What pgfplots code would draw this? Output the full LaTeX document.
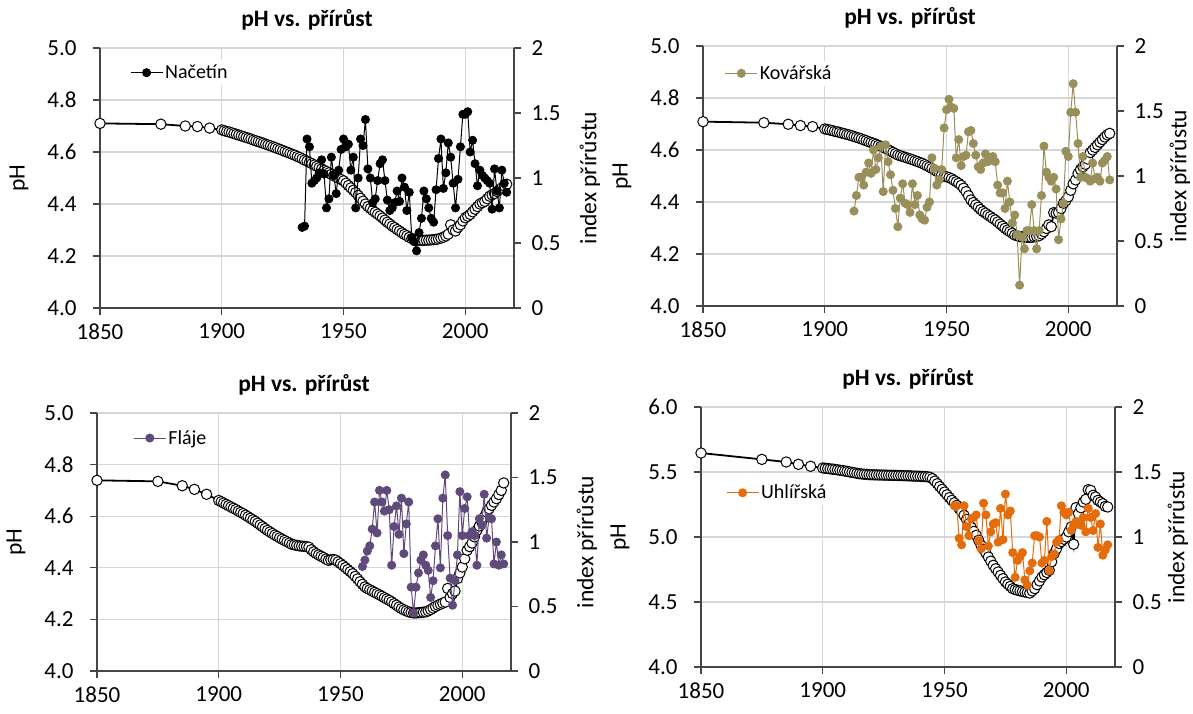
\documentclass[border=0pt]{standalone}
\usepackage{fontspec}
\setmainfont{Carlito}
\usepackage{pgfplots}
\pgfplotsset{compat=1.18}
\definecolor{kov}{RGB}{153,143,90}
\definecolor{fla}{RGB}{96,74,123}
\definecolor{uhl}{RGB}{228,108,10}
\definecolor{gridc}{RGB}{214,214,214}
\definecolor{axc}{RGB}{70,70,70}

\pgfplotsset{
  base/.style={
    scale only axis, width=414pt, height=260pt,
    anchor=south west,
    xmin=1850, xmax=2020,
    tick align=outside, major tick length=7pt,
    font=\fontsize{23}{25}\selectfont,
    every tick label/.append style={font=\fontsize{23}{25}\selectfont, text=black},
    label style={font=\fontsize{23.5}{26}\selectfont},
    axis line style={draw=axc, line width=1.2pt},
    every tick/.append style={draw=axc, line width=1.2pt},
    clip=false,
    /pgf/number format/assume math mode=true,
  },
  leftax/.style={base,
    axis x line*=bottom, axis y line*=left,
    xtick={1850,1900,1950,2000},
    xticklabels={1850,1900,1950,2000},
    xticklabel style={yshift=-5pt},
    yticklabel style={xshift=-13pt},
    ylabel={pH},
    ylabel style={at={([xshift=-81pt]axis description cs:0,0.5)}, anchor=center},
    title style={font=\bfseries\fontsize{23.5}{26}\selectfont, at={(axis description cs:0.5,1)}, anchor=center, yshift=22pt},
    title={pH vs. přírůst},
    grid=major, grid style={draw=gridc, line width=1.3pt},
  },
  rightax/.style={base,
    axis x line=none, axis y line*=right,
    ymin=0, ymax=2, ytick={0,0.5,1,1.5,2},
    yticklabels={0,0.5,1,1.5,2},
    yticklabel style={xshift=7pt},
    ylabel={index přírůstu},
    ylabel style={at={([xshift=#1]axis description cs:1,0.5)}, anchor=center},
    legend style={draw=none, fill=white, font=\fontsize{20}{22}\selectfont, anchor=west, inner sep=3pt},
    legend image code/.code={\draw[mark repeat=2,mark phase=2,##1] plot coordinates {(0pt,0pt) (16pt,0pt) (32pt,0pt)};},
  },
  phline/.style={black, line width=1.8pt, mark=*, mark size=5.2pt, mark options={fill=white, draw=black, line width=1pt}},
  grline/.style={color=#1, line width=1pt, mark=*, mark size=4pt, mark options={fill=#1, draw=#1}},
}

\begin{document}
\begin{tikzpicture}
\useasboundingbox (0pt,0pt) rectangle (1193pt,713pt);

% ---------------- Panel 1: Načetín ----------------
\begin{axis}[leftax, at={(100pt,405pt)}, ymin=4, ymax=5, ytick={4,4.2,4.4,4.6,4.8,5},
  yticklabels={4.0,4.2,4.4,4.6,4.8,5.0}]
\addplot[phline] coordinates {
(1850,4.710)(1875,4.707)(1885,4.700)(1890,4.698)(1895,4.692)
(1900,4.685)(1901,4.682)(1902,4.679)(1903,4.677)(1904,4.674)(1905,4.671)(1906,4.668)(1907,4.665)(1908,4.662)(1909,4.659)
(1910,4.656)(1911,4.653)(1912,4.650)(1913,4.646)(1914,4.643)(1915,4.640)(1916,4.637)(1917,4.634)(1918,4.630)(1919,4.627)
(1920,4.624)(1921,4.620)(1922,4.617)(1923,4.613)(1924,4.610)(1925,4.606)(1926,4.602)(1927,4.599)(1928,4.595)(1929,4.591)
(1930,4.588)(1931,4.583)(1932,4.579)(1933,4.574)(1934,4.569)(1935,4.565)(1936,4.560)(1937,4.555)(1938,4.550)(1939,4.545)
(1940,4.540)(1941,4.535)(1942,4.530)(1943,4.525)(1944,4.520)(1945,4.514)(1946,4.509)(1947,4.504)(1948,4.499)(1949,4.494)
(1950,4.489)(1951,4.480)(1952,4.471)(1953,4.462)(1954,4.453)(1955,4.444)(1956,4.433)(1957,4.422)(1958,4.411)(1959,4.400)
(1960,4.390)(1961,4.383)(1962,4.375)(1963,4.368)(1964,4.361)(1965,4.354)(1966,4.346)(1967,4.338)(1968,4.330)(1969,4.323)
(1970,4.315)(1971,4.309)(1972,4.302)(1973,4.296)(1974,4.289)(1975,4.283)(1976,4.278)(1977,4.272)(1978,4.267)(1979,4.264)
(1980,4.261)(1981,4.261)(1982,4.260)(1983,4.260)(1984,4.261)(1985,4.261)(1986,4.262)(1987,4.263)(1988,4.264)(1989,4.266)
(1990,4.269)(1991,4.272)(1992,4.277)(1993,4.284)(1994,4.320)(1995,4.300)(1996,4.296)(1997,4.310)(1998,4.320)(1999,4.335)
(2000,4.347)(2001,4.353)(2002,4.360)(2003,4.370)(2004,4.380)(2005,4.390)(2006,4.400)(2007,4.405)(2008,4.410)(2009,4.420)
(2010,4.430)(2011,4.435)(2012,4.440)(2013,4.448)(2014,4.455)(2015,4.462)(2016,4.470)(2017,4.476)
};
\end{axis}
\begin{axis}[rightax=76pt, at={(100pt,405pt)}, legend style={at={(axis description cs:0.065,0.905)}}]
\addplot[grline=black] coordinates {
(1933,0.62)(1934,0.63)(1935,1.30)(1936,1.24)(1937,0.96)(1938,0.98)(1939,1.00)
(1940,1.04)(1941,1.14)(1942,1.03)(1943,0.77)(1944,0.84)(1945,1.16)(1946,1.02)(1947,0.88)(1948,1.06)(1949,1.22)
(1950,1.30)(1951,1.24)(1952,1.26)(1953,1.06)(1954,1.16)(1955,0.77)(1956,1.00)(1957,1.30)(1958,1.25)(1959,1.45)
(1960,1.07)(1961,1.00)(1962,0.81)(1963,0.84)(1964,0.98)(1965,1.11)(1966,1.14)(1967,0.98)(1968,0.83)(1969,0.75)
(1970,0.77)(1971,0.81)(1972,0.90)(1973,0.82)(1974,1.00)(1975,0.93)(1976,0.75)(1977,0.89)(1978,0.54)(1979,0.51)
(1980,0.44)(1981,0.58)(1982,0.69)(1983,0.90)(1984,0.84)(1985,0.77)(1986,0.69)(1987,0.66)(1988,0.91)(1989,1.15)
(1990,1.30)(1991,0.92)(1992,1.04)(1993,1.27)(1994,1.16)(1995,0.96)(1996,0.77)(1997,0.99)(1998,1.24)(1999,1.49)
(2000,1.49)(2001,1.51)(2002,1.20)(2003,1.29)(2004,1.11)(2005,0.94)(2006,1.06)(2007,1.02)(2008,1.00)(2009,0.98)
(2010,0.96)(2011,0.76)(2012,1.07)(2013,0.90)(2014,0.77)(2015,1.06)(2016,0.96)(2017,0.89)
};
\addlegendentry{Načetín}
\end{axis}

% ---------------- Panel 2: Kovářská ----------------
\begin{axis}[leftax, at={(703pt,407pt)}, ymin=4, ymax=5, ytick={4,4.2,4.4,4.6,4.8,5},
  yticklabels={4.0,4.2,4.4,4.6,4.8,5.0}]
\addplot[phline] coordinates {
(1850,4.709)(1875,4.705)(1885,4.699)(1890,4.694)(1895,4.690)
(1900,4.681)(1901,4.679)(1902,4.677)(1903,4.675)(1904,4.672)(1905,4.670)(1906,4.668)(1907,4.665)(1908,4.663)(1909,4.660)
(1910,4.658)(1911,4.655)(1912,4.652)(1913,4.649)(1914,4.646)(1915,4.643)(1916,4.639)(1917,4.636)(1918,4.632)(1919,4.629)
(1920,4.626)(1921,4.622)(1922,4.618)(1923,4.614)(1924,4.610)(1925,4.606)(1926,4.601)(1927,4.596)(1928,4.591)(1929,4.586)
(1930,4.581)(1931,4.578)(1932,4.575)(1933,4.572)(1934,4.569)(1935,4.566)(1936,4.563)(1937,4.559)(1938,4.556)(1939,4.552)
(1940,4.549)(1941,4.544)(1942,4.539)(1943,4.534)(1944,4.529)(1945,4.523)(1946,4.518)(1947,4.512)(1948,4.505)(1949,4.499)
(1950,4.497)(1951,4.494)(1952,4.490)(1953,4.484)(1954,4.478)(1955,4.472)(1956,4.464)(1957,4.453)(1958,4.440)(1959,4.424)
(1960,4.408)(1961,4.398)(1962,4.389)(1963,4.380)(1964,4.371)(1965,4.363)(1966,4.357)(1967,4.350)(1968,4.344)(1969,4.337)
(1970,4.331)(1971,4.323)(1972,4.315)(1973,4.307)(1974,4.299)(1975,4.292)(1976,4.286)(1977,4.280)(1978,4.273)(1979,4.270)
(1980,4.267)(1981,4.266)(1982,4.265)(1983,4.264)(1984,4.264)(1985,4.264)(1986,4.266)(1987,4.268)(1988,4.270)(1989,4.277)
(1990,4.286)(1991,4.298)(1992,4.312)(1993,4.305)(1994,4.359)(1995,4.357)(1996,4.360)(1997,4.375)(1998,4.395)(1999,4.405)
(2000,4.420)(2001,4.445)(2002,4.470)(2003,4.485)(2004,4.510)(2005,4.525)(2006,4.535)(2007,4.545)(2008,4.565)(2009,4.590)
(2010,4.600)(2011,4.610)(2012,4.620)(2013,4.630)(2014,4.640)(2015,4.650)(2016,4.658)(2017,4.664)
};
\end{axis}
\begin{axis}[rightax=63pt, at={(703pt,407pt)}, legend style={at={(axis description cs:0.045,0.895)}}]
\addplot[grline=kov] coordinates {
(1912,0.73)(1913,0.85)(1914,0.99)(1915,0.99)(1916,0.93)(1917,1.03)(1918,1.10)(1919,1.02)
(1920,1.20)(1921,1.05)(1922,1.14)(1923,1.23)(1924,0.88)(1925,1.24)(1926,1.11)(1927,1.01)(1928,0.89)(1929,0.75)
(1930,0.61)(1931,0.83)(1932,0.94)(1933,0.79)(1934,0.78)(1935,0.72)(1936,0.94)(1937,0.78)(1938,0.85)(1939,0.70)
(1940,0.67)(1941,0.66)(1942,0.76)(1943,0.80)(1944,1.14)(1945,1.06)(1946,0.93)(1947,0.97)(1948,1.05)(1949,1.37)
(1950,1.51)(1951,1.59)(1952,1.53)(1953,1.52)(1954,1.14)(1955,1.28)(1956,1.08)(1957,1.15)(1958,1.16)(1959,1.34)
(1960,1.35)(1961,1.25)(1962,1.16)(1963,1.07)(1964,1.05)(1965,1.10)(1966,1.17)(1967,1.11)(1968,1.12)(1969,1.15)
(1970,1.11)(1971,0.93)(1972,0.87)(1973,0.87)(1974,0.75)(1975,0.96)(1976,0.80)(1977,0.64)(1978,0.70)(1979,0.55)
(1980,0.16)(1981,0.53)(1982,0.44)(1983,0.58)(1984,0.58)(1985,0.78)(1986,0.58)(1987,0.44)(1988,0.58)(1989,0.85)
(1990,1.23)(1991,1.03)(1992,0.99)(1993,0.96)(1994,0.99)(1995,0.90)(1996,0.51)(1997,0.67)(1998,0.79)(1999,1.19)
(2000,1.15)(2001,1.49)(2002,1.71)(2003,1.49)(2004,1.25)(2005,0.99)(2006,1.15)(2007,0.99)(2008,0.98)(2009,0.96)
(2010,1.10)(2011,0.98)(2012,0.99)(2013,0.96)(2014,1.10)(2015,1.12)(2016,1.15)(2017,0.97)
};
\addlegendentry{Kovářská}
\end{axis}

% ---------------- Panel 3: Fláje ----------------
\begin{axis}[leftax, at={(97pt,42pt)}, height=258pt, ymin=4, ymax=5, ytick={4,4.2,4.4,4.6,4.8,5},
  yticklabels={4.0,4.2,4.4,4.6,4.8,5.0}]
\addplot[phline] coordinates {
(1850,4.739)(1875,4.735)(1885,4.718)(1890,4.704)(1895,4.685)
(1900,4.661)(1901,4.656)(1902,4.651)(1903,4.646)(1904,4.641)(1905,4.636)(1906,4.631)(1907,4.626)(1908,4.620)(1909,4.615)
(1910,4.610)(1911,4.604)(1912,4.598)(1913,4.592)(1914,4.586)(1915,4.580)(1916,4.573)(1917,4.566)(1918,4.559)(1919,4.552)
(1920,4.545)(1921,4.539)(1922,4.533)(1923,4.527)(1924,4.522)(1925,4.516)(1926,4.511)(1927,4.506)(1928,4.501)(1929,4.496)
(1930,4.491)(1931,4.489)(1932,4.487)(1933,4.485)(1934,4.484)(1935,4.483)(1936,4.482)(1937,4.480)(1938,4.470)(1939,4.462)
(1940,4.455)(1941,4.450)(1942,4.445)(1943,4.440)(1944,4.434)(1945,4.429)(1946,4.431)(1947,4.432)(1948,4.430)(1949,4.423)
(1950,4.416)(1951,4.409)(1952,4.401)(1953,4.393)(1954,4.385)(1955,4.377)(1956,4.367)(1957,4.357)(1958,4.346)(1959,4.336)
(1960,4.326)(1961,4.320)(1962,4.315)(1963,4.310)(1964,4.305)(1965,4.300)(1966,4.295)(1967,4.290)(1968,4.284)(1969,4.279)
(1970,4.274)(1971,4.268)(1972,4.261)(1973,4.255)(1974,4.248)(1975,4.242)(1976,4.237)(1977,4.233)(1978,4.229)(1979,4.227)
(1980,4.225)(1981,4.225)(1982,4.226)(1983,4.227)(1984,4.228)(1985,4.229)(1986,4.233)(1987,4.238)(1988,4.244)(1989,4.250)
(1990,4.255)(1991,4.259)(1992,4.263)(1993,4.267)(1994,4.320)(1995,4.285)(1996,4.300)(1997,4.310)(1998,4.358)(1999,4.380)
(2000,4.403)(2001,4.435)(2002,4.468)(2003,4.482)(2004,4.496)(2005,4.520)(2006,4.545)(2007,4.562)(2008,4.578)(2009,4.597)
(2010,4.616)(2011,4.629)(2012,4.642)(2013,4.655)(2014,4.668)(2015,4.684)(2016,4.700)(2017,4.729)
};
\end{axis}
\begin{axis}[rightax=76pt, at={(97pt,42pt)}, height=258pt, legend style={at={(axis description cs:0.08,0.903)}}]
\addplot[grline=fla] coordinates {
(1959,0.81)
(1960,0.86)(1961,0.93)(1962,0.97)(1963,1.10)(1964,1.31)(1965,1.07)(1966,1.40)(1967,1.31)(1968,1.24)(1969,1.40)
(1970,1.25)(1971,0.82)(1972,1.12)(1973,1.28)(1974,1.06)(1975,1.34)(1976,0.91)(1977,1.14)(1978,1.31)(1979,0.65)
(1980,0.45)(1981,0.65)(1982,0.76)(1983,0.86)(1984,0.90)(1985,0.82)(1986,0.78)(1987,0.57)(1988,0.70)(1989,0.97)
(1990,1.18)(1991,0.80)(1992,1.34)(1993,1.52)(1994,1.05)(1995,0.72)(1996,0.51)(1997,0.70)(1998,0.90)(1999,1.39)
(2000,1.05)(2001,1.26)(2002,1.35)(2003,1.05)(2004,1.08)(2005,1.05)(2006,0.82)(2007,1.18)(2008,1.13)(2009,1.37)
(2010,1.03)(2011,1.19)(2012,1.18)(2013,0.83)(2014,1.00)(2015,0.82)(2016,0.90)(2017,0.83)
};
\addlegendentry{Fláje}
\end{axis}

% ---------------- Panel 4: Uhlířská ----------------
\begin{axis}[leftax, at={(701pt,46pt)}, ymin=4, ymax=6, ytick={4,4.5,5,5.5,6},
  yticklabels={4.0,4.5,5.0,5.5,6.0}]
\addplot[phline] coordinates {
(1850,5.646)(1875,5.597)(1885,5.577)(1890,5.559)(1895,5.544)
(1900,5.531)(1901,5.529)(1902,5.527)(1903,5.524)(1904,5.522)(1905,5.520)(1906,5.517)(1907,5.514)(1908,5.511)(1909,5.508)
(1910,5.505)(1911,5.501)(1912,5.497)(1913,5.494)(1914,5.490)(1915,5.487)(1916,5.485)(1917,5.483)(1918,5.482)(1919,5.480)
(1920,5.479)(1921,5.478)(1922,5.478)(1923,5.477)(1924,5.477)(1925,5.476)(1926,5.476)(1927,5.475)(1928,5.475)(1929,5.474)
(1930,5.474)(1931,5.473)(1932,5.473)(1933,5.472)(1934,5.471)(1935,5.471)(1936,5.470)(1937,5.469)(1938,5.468)(1939,5.468)
(1940,5.467)(1941,5.466)(1942,5.465)(1943,5.463)(1944,5.460)(1945,5.449)(1946,5.430)(1947,5.410)(1948,5.388)(1949,5.367)
(1950,5.346)(1951,5.325)(1952,5.303)(1953,5.282)(1954,5.263)(1955,5.244)(1956,5.218)(1957,5.193)(1958,5.167)(1959,5.135)
(1960,5.103)(1961,5.073)(1962,5.043)(1963,5.013)(1964,4.975)(1965,4.936)(1966,4.906)(1967,4.876)(1968,4.846)(1969,4.814)
(1970,4.782)(1971,4.756)(1972,4.731)(1973,4.705)(1974,4.680)(1975,4.654)(1976,4.637)(1977,4.620)(1978,4.603)(1979,4.596)
(1980,4.590)(1981,4.586)(1982,4.581)(1983,4.577)(1984,4.573)(1985,4.569)(1986,4.585)(1987,4.603)(1988,4.633)(1989,4.662)
(1990,4.692)(1991,4.710)(1992,4.727)(1993,4.744)(1994,4.810)(1995,4.872)(1996,4.910)(1997,4.950)(1998,4.965)(1999,4.983)
(2000,5.000)(2001,5.040)(2002,5.077)(2003,4.944)(2004,5.226)(2005,5.180)(2006,5.225)(2007,5.269)(2008,5.290)(2009,5.364)
(2010,5.359)(2011,5.321)(2012,5.308)(2013,5.282)(2014,5.269)(2015,5.256)(2016,5.236)(2017,5.231)
};
\end{axis}
\begin{axis}[rightax=63pt, at={(701pt,46pt)}, legend style={at={(axis description cs:0.053,0.67)}}]
\addplot[grline=uhl] coordinates {
(1954,1.24)(1955,1.24)(1956,0.99)(1957,0.94)(1958,1.24)(1959,1.08)
(1960,1.01)(1961,1.14)(1962,1.15)(1963,1.17)(1964,0.97)(1965,0.91)(1966,1.26)(1967,1.17)(1968,0.93)(1969,1.04)
(1970,1.10)(1971,1.11)(1972,0.96)(1973,1.22)(1974,0.98)(1975,1.33)(1976,1.17)(1977,1.20)(1978,0.88)(1979,0.69)
(1980,0.82)(1981,0.85)(1982,0.88)(1983,0.67)(1984,0.63)(1985,0.74)(1986,0.80)(1987,1.01)(1988,1.01)(1989,1.00)
(1990,0.80)(1991,0.82)(1992,1.12)(1993,0.74)(1994,0.85)(1995,0.87)(1996,0.96)(1997,0.98)(1998,1.24)(1999,1.19)
(2000,1.17)(2001,1.19)(2002,1.05)(2003,1.09)(2004,1.12)(2005,1.10)(2006,1.09)(2007,1.15)(2008,1.04)(2009,1.22)
(2010,1.15)(2011,1.05)(2012,1.18)(2013,0.92)(2014,1.10)(2015,0.86)(2016,0.90)(2017,0.94)
};
\addlegendentry{Uhlířská}
\end{axis}
\end{tikzpicture}
\end{document}
